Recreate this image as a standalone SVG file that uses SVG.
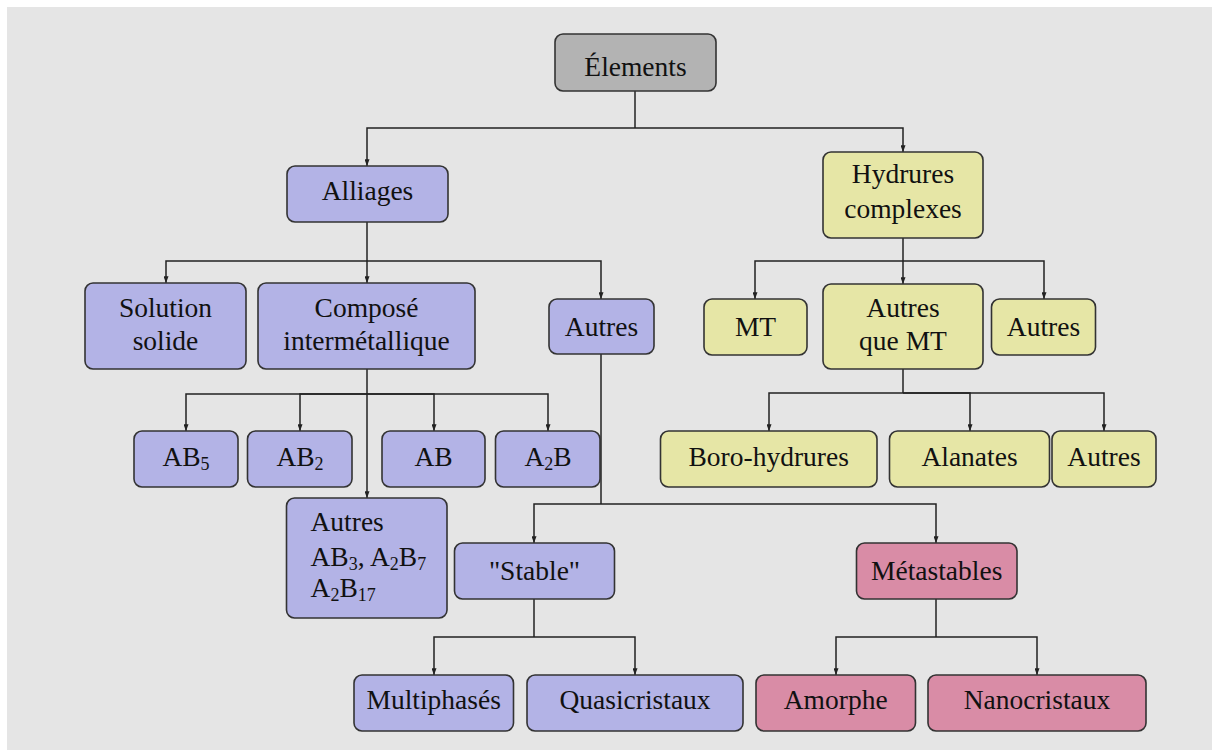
<svg xmlns="http://www.w3.org/2000/svg" width="1212" height="751" viewBox="0 0 1212 751">
<style>
.bg{fill:#e5e5e5}
.box{stroke:#333;stroke-width:1.6}
.gray{fill:#b3b3b3}
.blue{fill:#b3b3e6}
.yellow{fill:#e6e6a6}
.pink{fill:#d98ca6}
text{font-family:"Liberation Serif","Times New Roman",serif;font-size:27.5px;fill:#111}
.c{text-anchor:middle}
.sub{font-size:18px}
.conn path{fill:none;stroke:#222;stroke-width:1.5}
</style>
<defs>
<marker id="arr" viewBox="0 0 8 6" refX="8" refY="3" markerWidth="7" markerHeight="5" orient="auto" markerUnits="userSpaceOnUse">
<path d="M0,0 L8,3 L0,6 z" fill="#222"/>
</marker>
</defs>
<rect class="bg" x="7" y="7" width="1205" height="743"/>
<g class="conn">
<path d="M635,91 V128"/>
<path d="M635,128 H367 V166" marker-end="url(#arr)"/>
<path d="M635,128 H903 V152" marker-end="url(#arr)"/>
<path d="M367,222 V261"/>
<path d="M367,261 H166 V283" marker-end="url(#arr)"/>
<path d="M367,261 V283" marker-end="url(#arr)"/>
<path d="M367,261 H601 V299" marker-end="url(#arr)"/>
<path d="M903,238 V261"/>
<path d="M903,261 H755 V299" marker-end="url(#arr)"/>
<path d="M903,261 V284" marker-end="url(#arr)"/>
<path d="M903,261 H1044 V299" marker-end="url(#arr)"/>
<path d="M367,369 V498" marker-end="url(#arr)"/>
<path d="M367,394 H186 V431" marker-end="url(#arr)"/>
<path d="M367,394 H300 V431" marker-end="url(#arr)"/>
<path d="M367,394 H434 V431" marker-end="url(#arr)"/>
<path d="M367,394 H548 V431" marker-end="url(#arr)"/>
<path d="M903,369 V393"/>
<path d="M903,393 H769 V431" marker-end="url(#arr)"/>
<path d="M903,393 H970 V431" marker-end="url(#arr)"/>
<path d="M903,393 H1104 V431" marker-end="url(#arr)"/>
<path d="M601,354 V504"/>
<path d="M601,504 H534 V543" marker-end="url(#arr)"/>
<path d="M601,504 H936 V543" marker-end="url(#arr)"/>
<path d="M534,599 V637"/>
<path d="M534,637 H434 V675" marker-end="url(#arr)"/>
<path d="M534,637 H635 V675" marker-end="url(#arr)"/>
<path d="M936,599 V637"/>
<path d="M936,637 H836 V675" marker-end="url(#arr)"/>
<path d="M936,637 H1037 V675" marker-end="url(#arr)"/>
</g>
<g id="elements"><rect class="box gray" x="555" y="34" width="161" height="57" rx="8"/><text class="c" x="635.5" y="76">Élements</text></g>
<g id="alliages"><rect class="box blue" x="287" y="166" width="161" height="56" rx="8"/><text class="c" x="367.5" y="200">Alliages</text></g>
<g id="hydrures"><rect class="box yellow" x="823" y="152" width="160" height="86" rx="8"/><text class="c" x="903" y="183">Hydrures</text><text class="c" x="903" y="218">complexes</text></g>
<g id="solution"><rect class="box blue" x="85" y="283" width="161" height="86" rx="8"/><text class="c" x="165.5" y="317">Solution</text><text class="c" x="165.5" y="350">solide</text></g>
<g id="compose"><rect class="box blue" x="258" y="283" width="217" height="86" rx="8"/><text class="c" x="366.5" y="317">Composé</text><text class="c" x="366.5" y="350">intermétallique</text></g>
<g id="autres-alliages"><rect class="box blue" x="549" y="299" width="105" height="55" rx="8"/><text class="c" x="601.5" y="336">Autres</text></g>
<g id="mt"><rect class="box yellow" x="704" y="299" width="103" height="56" rx="8"/><text class="c" x="755.5" y="336">MT</text></g>
<g id="autres-que-mt"><rect class="box yellow" x="823" y="284" width="160" height="85" rx="8"/><text class="c" x="903" y="317">Autres</text><text class="c" x="903" y="350">que MT</text></g>
<g id="autres-hydrures"><rect class="box yellow" x="991.5" y="299" width="104" height="56" rx="8"/><text class="c" x="1043.5" y="336">Autres</text></g>
<g id="ab5"><rect class="box blue" x="134" y="431" width="104" height="56" rx="8"/><text class="c" x="186" y="466">AB<tspan class="sub" dy="3.5">5</tspan></text></g>
<g id="ab2"><rect class="box blue" x="247.5" y="431" width="104.5" height="56" rx="8"/><text class="c" x="300" y="466">AB<tspan class="sub" dy="3.5">2</tspan></text></g>
<g id="ab"><rect class="box blue" x="382" y="431" width="103" height="56" rx="8"/><text class="c" x="433.5" y="466">AB</text></g>
<g id="a2b"><rect class="box blue" x="495.5" y="431" width="104.5" height="56" rx="8"/><text class="c" x="548" y="466">A<tspan class="sub" dy="3.5">2</tspan><tspan dy="-3.5">B</tspan></text></g>
<g id="autres-ab3"><rect class="box blue" x="286.5" y="498" width="160.5" height="120" rx="8"/><text x="310.5" y="531">Autres</text><text x="310.5" y="566">AB<tspan class="sub" dy="3.5">3</tspan><tspan dy="-3.5">, A</tspan><tspan class="sub" dy="3.5">2</tspan><tspan dy="-3.5">B</tspan><tspan class="sub" dy="3.5">7</tspan></text><text x="310.5" y="597">A<tspan class="sub" dy="3.5">2</tspan><tspan dy="-3.5">B</tspan><tspan class="sub" dy="3.5">17</tspan></text></g>
<g id="boro"><rect class="box yellow" x="660.5" y="431" width="216.5" height="56" rx="8"/><text class="c" x="768.7" y="466">Boro-hydrures</text></g>
<g id="alanates"><rect class="box yellow" x="889.5" y="431" width="160" height="56" rx="8"/><text class="c" x="969.5" y="466">Alanates</text></g>
<g id="autres-complexes"><rect class="box yellow" x="1052" y="431" width="104" height="56" rx="8"/><text class="c" x="1104" y="466">Autres</text></g>
<g id="stable"><rect class="box blue" x="454.5" y="543" width="160" height="56" rx="8"/><text class="c" x="534.5" y="580">"Stable"</text></g>
<g id="metastables"><rect class="box pink" x="856.5" y="543" width="160.5" height="56" rx="8"/><text class="c" x="936.7" y="580">Métastables</text></g>
<g id="multiphases"><rect class="box blue" x="354" y="675" width="159.5" height="56" rx="8"/><text class="c" x="433.7" y="709">Multiphasés</text></g>
<g id="quasicristaux"><rect class="box blue" x="527" y="675" width="216" height="56" rx="8"/><text class="c" x="635" y="709">Quasicristaux</text></g>
<g id="amorphe"><rect class="box pink" x="756" y="675" width="159.5" height="56" rx="8"/><text class="c" x="835.7" y="709">Amorphe</text></g>
<g id="nanocristaux"><rect class="box pink" x="928" y="675" width="218" height="56" rx="8"/><text class="c" x="1037" y="709">Nanocristaux</text></g>
</svg>
